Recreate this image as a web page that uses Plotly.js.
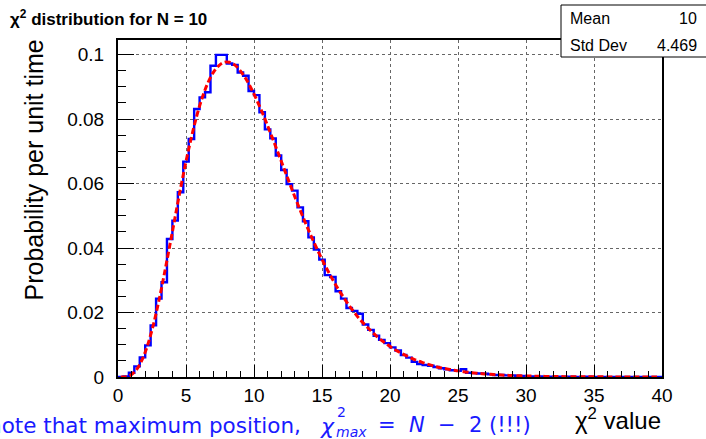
<!DOCTYPE html>
<html><head><meta charset="utf-8">
<script src="https://cdn.plot.ly/plotly-3.0.1.min.js"></script>
<style>html,body{margin:0;padding:0;background:#fff;} #chart{width:706px;height:439px;}</style>
</head><body><div id="chart"></div>
<script>
// Histogram binning (100 bins of width 0.4 from 0 to 40)
const binLow = 0;
const binWidth = 0.4;
const nBins = 100;

// Simulated histogram contents (blue)
const histValues = [
 0.0000,0.0002,0.0013,0.0033,0.0061,0.0098,0.0160,0.0243,0.0294,0.0428,
 0.0485,0.0573,0.0668,0.0738,0.0831,0.0867,0.0883,0.0965,0.0999,0.0999,
 0.0972,0.0968,0.0944,0.0934,0.0887,0.0874,0.0821,0.0768,0.0740,0.0687,
 0.0642,0.0598,0.0578,0.0526,0.0483,0.0433,0.0395,0.0364,0.0316,0.0310,
 0.0266,0.0243,0.0214,0.0205,0.0196,0.0163,0.0146,0.0128,0.0115,0.0105,
 0.0092,0.0082,0.0068,0.0060,0.0047,0.0040,0.0037,0.0035,0.0031,0.0027,
 0.0024,0.0021,0.0019,0.0024,0.0013,0.0012,0.0011,0.0010,0.0008,0.0006,
 0.0006,0.0005,0.0005,0.0004,0.0003,0.0001,0.0002,0.0002,0.0001,0.0001,
 0.0001,0.0001,0.0001,0.0001,0.0000,0.0000,0.0001,0.0000,0.0000,0.0000,
 0.0000,0.0000,0.0000,0.0000,0.0000,0.0000,0.0000,0.0000,0.0000,0.0000
];

// Expected distribution (red dashed), read at the bin centres
const curveValues = [
 0.0000,0.0001,0.0008,0.0025,0.0056,0.0102,0.0162,0.0235,0.0318,0.0406,
 0.0496,0.0585,0.0668,0.0744,0.0811,0.0867,0.0911,0.0944,0.0965,0.0976,
 0.0976,0.0967,0.0949,0.0925,0.0894,0.0859,0.0821,0.0779,0.0736,0.0692,
 0.0647,0.0603,0.0559,0.0517,0.0476,0.0437,0.0400,0.0365,0.0332,0.0301,
 0.0272,0.0246,0.0221,0.0199,0.0178,0.0160,0.0143,0.0127,0.0113,0.0101,
 0.0089,0.0079,0.0070,0.0062,0.0054,0.0048,0.0042,0.0037,0.0032,0.0028,
 0.0025,0.0022,0.0019,0.00165,0.00144,0.00125,0.00109,0.00094,0.00082,0.00071,
 0.00061,0.00053,0.00046,0.00040,0.00034,0.00030,0.00026,0.00022,0.00019,0.00016,
 0.00014,0.00012,0.00010,0.00009,0.00008,0.00007,0.00006,0.00005,0.00004,0.00004,
 0.00003,0.00003,0.00002,0.00002,0.00002,0.00001,0.00001,0.00001,0.00001,0.00001
];

const xTickVals = [0,5,10,15,20,25,30,35,40];
const yTickVals = [0,0.02,0.04,0.06,0.08,0.1];
const yTickText = ['0','0.02','0.04','0.06','0.08','0.1'];
const statsLabels = ['Mean','Std Dev'];
const statsValues = ['10','4.469'];

// Build step coordinates from the bins
const edges = [], stepY = [], centres = [];
for (let i = 0; i <= nBins; i++) {
  edges.push(+(binLow + i*binWidth).toFixed(4));
  stepY.push(histValues[Math.min(i, nBins-1)]);
}
for (let i = 0; i < nBins; i++) centres.push(+(binLow + (i+0.5)*binWidth).toFixed(4));

// pixel helpers for layout placement
const W = 706, H = 439, L = 118, R = 44, T = 40, B = 62;
const pw = W - L - R, ph = H - T - B;
const px = x => (x - L)/pw;
const py = y => (H - B - y)/ph;

const FONT = 'Liberation Sans, Arial, Helvetica, sans-serif';
const NOTE_FONT = 'DejaVu Sans, sans-serif';
const NOTE_COL = '#1a1aff';

const traces = [
  {x: edges, y: stepY, type: 'scatter', mode: 'lines', line: {shape: 'hv', color: '#0000ff', width: 2.4}, hoverinfo: 'skip'},
  {x: centres, y: curveValues, type: 'scatter', mode: 'lines', line: {shape: 'spline', color: '#ff0000', width: 3, dash: '6px,3px'}, hoverinfo: 'skip'}
];

const annotations = [
  {xref:'paper', yref:'paper', x: px(8), y: py(18), xanchor:'left', yanchor:'middle', showarrow:false,
   text:'<b>χ<sup>2</sup> distribution for N = 10</b>', font:{family:FONT, size:17, color:'#000'}},
  {xref:'paper', yref:'paper', x: px(33), y: py(38), xanchor:'center', yanchor:'top', textangle:-90, showarrow:false,
   text:'Probability per unit time', font:{family:FONT, size:25, color:'#000'}},
  {xref:'paper', yref:'paper', x: px(663), y: py(419), xanchor:'right', yanchor:'middle', showarrow:false,
   text:'χ<sup>2</sup> value', font:{family:FONT, size:24, color:'#000'}},
  {xref:'paper', yref:'paper', x: px(568), y: py(19), xanchor:'left', yanchor:'middle', showarrow:false,
   text: statsLabels[0], font:{family:FONT, size:16, color:'#000'}},
  {xref:'paper', yref:'paper', x: px(699), y: py(19), xanchor:'right', yanchor:'middle', showarrow:false,
   text: statsValues[0], font:{family:FONT, size:16, color:'#000'}},
  {xref:'paper', yref:'paper', x: px(568), y: py(46), xanchor:'left', yanchor:'middle', showarrow:false,
   text: statsLabels[1], font:{family:FONT, size:16, color:'#000'}},
  {xref:'paper', yref:'paper', x: px(699), y: py(46), xanchor:'right', yanchor:'middle', showarrow:false,
   text: statsValues[1], font:{family:FONT, size:16, color:'#000'}},
  // bottom note (slide text, partly cut at the left edge as in the original)
  {xref:'paper', yref:'paper', x: px(-14), y: py(425), xanchor:'left', yanchor:'middle', showarrow:false,
   text:'note that maximum position,', font:{family:NOTE_FONT, size:21.5, color:NOTE_COL}},
  {xref:'paper', yref:'paper', x: px(318), y: py(426), xanchor:'left', yanchor:'middle', showarrow:false,
   text:'<i>χ</i>', font:{family:NOTE_FONT, size:22, color:NOTE_COL}},
  {xref:'paper', yref:'paper', x: px(335), y: py(412), xanchor:'left', yanchor:'middle', showarrow:false,
   text:'2', font:{family:NOTE_FONT, size:14, color:NOTE_COL}},
  {xref:'paper', yref:'paper', x: px(334), y: py(432), xanchor:'left', yanchor:'middle', showarrow:false,
   text:'<i>max</i>', font:{family:NOTE_FONT, size:14, color:NOTE_COL}},
  {xref:'paper', yref:'paper', x: px(376), y: py(425), xanchor:'left', yanchor:'middle', showarrow:false,
   text:'=  <i>N</i>  −  2 (!!!)', font:{family:NOTE_FONT, size:21, color:NOTE_COL}}
];

const shapes = [
  {type:'rect', xref:'paper', yref:'paper', x0: px(561), x1: px(712), y0: py(57), y1: py(5),
   line:{color:'#000', width:1}, fillcolor:'#fff', layer:'above'}
];

const axisCommon = {
  showline: true, linecolor: '#000', linewidth: 2, mirror: true,
  ticks: 'inside', tickcolor: '#000', tickwidth: 1,
  showgrid: true, gridcolor: '#666', griddash: 'dot', gridwidth: 1,
  zeroline: false, tickfont: {family: FONT, size: 19, color: '#000'},
  fixedrange: true
};

const layout = {
  width: W, height: H,
  margin: {l: L, r: R, t: T, b: B, pad: 0},
  paper_bgcolor: '#fff', plot_bgcolor: '#fff',
  showlegend: false,
  xaxis: Object.assign({}, axisCommon, {
    range: [0, 40], tickmode: 'array', tickvals: xTickVals, ticklen: 12,
    minor: {dtick: 1, ticklen: 6, ticks: 'inside', tickcolor: '#000', tickwidth: 1, showgrid: false},
    ticklabelstandoff: 0
  }),
  yaxis: Object.assign({}, axisCommon, {
    range: [0, 0.1045], tickmode: 'array', tickvals: yTickVals, ticktext: yTickText, ticklen: 16,
    minor: {dtick: 0.005, ticklen: 8, ticks: 'inside', tickcolor: '#000', tickwidth: 1, showgrid: false},
    ticklabelstandoff: 8
  }),
  annotations: annotations,
  shapes: shapes
};

Plotly.newPlot('chart', traces, layout, {staticPlot: true, displayModeBar: false});
</script>
</body></html>
